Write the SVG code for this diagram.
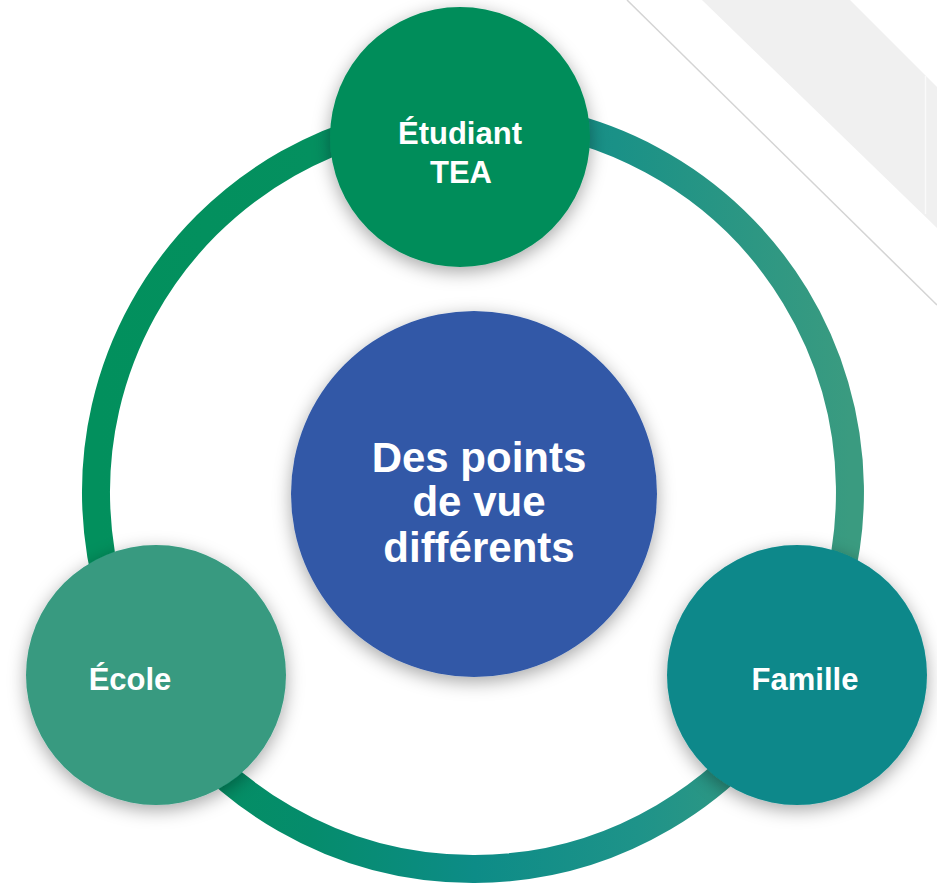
<svg xmlns="http://www.w3.org/2000/svg" width="937" height="886" viewBox="0 0 937 886">
  <style>
    .lbl { font-family: "Liberation Sans", Arial, sans-serif; font-weight: bold; fill: #ffffff; text-anchor: middle; }
    .small { font-size: 31px; }
    .big { font-size: 42px; }
    .ring { fill: none; stroke-width: 28; }
  </style>
  <defs>
    <filter id="shadow" x="-30%" y="-30%" width="160%" height="160%">
      <feDropShadow dx="0" dy="5" stdDeviation="9" flood-color="#000000" flood-opacity="0.35"/>
    </filter>
    <linearGradient id="gLeft" gradientUnits="userSpaceOnUse" x1="96" y1="0" x2="460" y2="0">
      <stop offset="0" stop-color="#02905D"/>
      <stop offset="0.6" stop-color="#04905F"/>
      <stop offset="0.85" stop-color="#0A8F7A"/>
      <stop offset="1" stop-color="#0E8A80"/>
    </linearGradient>
    <linearGradient id="gRight" gradientUnits="userSpaceOnUse" x1="460" y1="0" x2="850" y2="0">
      <stop offset="0" stop-color="#0F8B86"/>
      <stop offset="0.4" stop-color="#1A9187"/>
      <stop offset="1" stop-color="#3A9B80"/>
    </linearGradient>
    <linearGradient id="gBottom" gradientUnits="userSpaceOnUse" x1="150" y1="0" x2="800" y2="0">
      <stop offset="0" stop-color="#03905E"/>
      <stop offset="0.25" stop-color="#058C6C"/>
      <stop offset="0.5" stop-color="#0D8C87"/>
      <stop offset="0.75" stop-color="#1E9389"/>
      <stop offset="1" stop-color="#389A80"/>
    </linearGradient>
  </defs>

  <rect x="0" y="0" width="937" height="886" fill="#ffffff"/>

  <g id="background">
    <polygon points="702,0 850,0 937,87 937,228" fill="#F0F0F0"/>
    <line x1="925.5" y1="76" x2="925.5" y2="214" stroke="#FAFAFA" stroke-width="1.5"/>
    <line x1="627" y1="0" x2="937" y2="305" stroke="#D4D4D4" stroke-width="1.5"/>
  </g>

  <g id="connectors">
    <path class="ring" stroke="url(#gLeft)" d="M 459.8 115.2 A 377 377 0 0 0 146.5 680.5"/>
    <path class="ring" stroke="url(#gRight)" d="M 459.8 115.2 A 377 377 0 0 1 801.1 677.6"/>
    <path class="ring" stroke="url(#gBottom)" d="M 801.1 677.6 A 377 377 0 0 1 146.5 680.5"/>
  </g>

  <g id="node-center">
    <circle cx="474" cy="494" r="183" fill="#3058A7" filter="url(#shadow)"/>
    <text class="lbl big" x="479" y="472">Des points</text>
    <text class="lbl big" x="479" y="516">de vue</text>
    <text class="lbl big" x="479" y="562">différents</text>
  </g>

  <g id="node-etudiant">
    <circle cx="460" cy="137" r="130" fill="#038D5A" filter="url(#shadow)"/>
    <text class="lbl small" x="460" y="144">Étudiant</text>
    <text class="lbl small" x="461" y="183">TEA</text>
  </g>

  <g id="node-ecole">
    <circle cx="156" cy="675" r="130" fill="#379A80" filter="url(#shadow)"/>
    <text class="lbl small" x="130" y="690">École</text>
  </g>

  <g id="node-famille">
    <circle cx="797" cy="675" r="130" fill="#09888A" filter="url(#shadow)"/>
    <text class="lbl small" x="805" y="690">Famille</text>
  </g>
</svg>
